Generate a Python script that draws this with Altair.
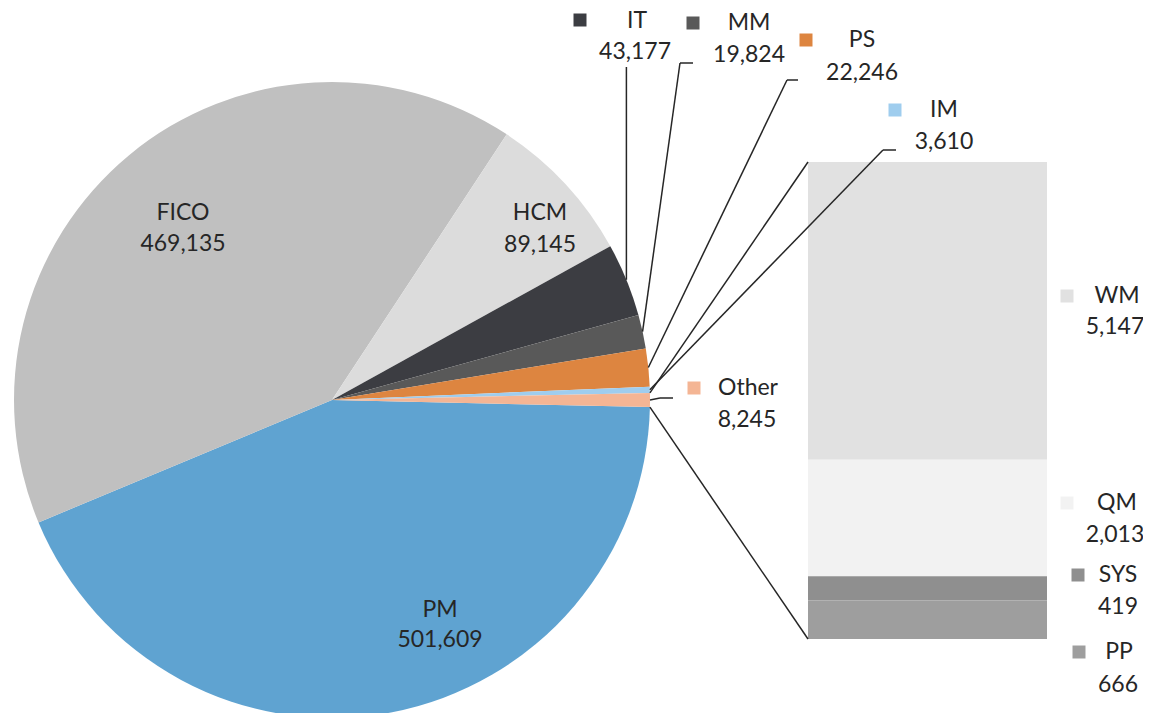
import math
import altair as alt
import pandas as pd

# ---------------- data ----------------
pie_names = ["PM", "FICO", "HCM", "IT", "MM", "PS", "IM", "Other"]
pie_values = [501609, 469135, 89145, 43177, 19824, 22246, 3610, 8245]
pie_colors = ["#5fa3d1", "#c0c0c0", "#dcdcdc", "#3c3d42", "#595959", "#dd8540", "#9fcdee", "#f4b594"]

bar_names = ["WM", "QM", "SYS", "PP"]
bar_values = [5147, 2013, 419, 666]
bar_colors = ["#e1e1e1", "#f2f2f2", "#8f8f8f", "#9e9e9e"]

# ---------------- layout (page pixels) ----------------
OFF = 8
W, H = 1135, 705
CX, CY, R = 332, 400, 318
BX0, BX1, BTOP, BBOT = 808, 1047, 162, 639
FONT = "Lato"
FS = 23
TXT = "#262626"

label_pos = {
    "FICO": (183, 213, 183, 244),
    "HCM": (540, 213, 540, 245),
    "PM": (440, 610, 440, 640),
    "IT": (637, 21, 635, 52),
    "MM": (749, 23, 749, 55),
    "PS": (862, 40, 862, 73),
    "IM": (944, 110, 944, 142),
    "Other": (748, 388, 747, 420),
    "WM": (1117, 296, 1115, 327),
    "QM": (1117, 503, 1115, 535),
    "SYS": (1118, 575, 1118, 607),
    "PP": (1119, 652, 1118, 685),
}
square_pos = {
    "IT": (580, 20), "MM": (693, 23), "PS": (806, 40), "IM": (895, 110),
    "Other": (694, 388), "WM": (1067, 296), "QM": (1067, 503),
    "SYS": (1078, 575), "PP": (1079, 652),
}
# leader anchors: (end x, end y, elbow x or None)
leader_pos = {
    "IT": (None, 67, None),
    "MM": (693, 63, 680),
    "PS": (798, 80, 787),
    "IM": (896, 150, 883),
    "Other": (673, 398, 660),
}

all_names = pie_names + bar_names
all_colors = pie_colors + bar_colors
color_scale = alt.Scale(domain=all_names, range=all_colors)

total = sum(pie_values)
other_frac = pie_values[-1] / total
start = math.pi / 2 + math.pi * other_frac

# slice angles
angles = {}
acc = start
for n, v in zip(pie_names, pie_values):
    a0 = acc
    acc += 2 * math.pi * v / total
    angles[n] = (a0, acc)


def pt(a, r=R):
    return CX + r * math.sin(a), CY - r * math.cos(a)


def fmt(v):
    return f"{v:,}"


# ---------------- pie ----------------
pie_df = pd.DataFrame({"name": pie_names, "value": pie_values, "ord": list(range(len(pie_names)))})
pie = alt.Chart(pie_df).mark_arc(radius=R).encode(
    theta=alt.Theta("value:Q", stack=True, scale=alt.Scale(range=[start, start + 2 * math.pi])),
    order=alt.Order("ord:Q"),
    color=alt.Color("name:N", scale=color_scale, legend=None),
    x=alt.value(CX - OFF),
    y=alt.value(CY - OFF),
)

# ---------------- bar ----------------
bar_df = pd.DataFrame({"name": bar_names, "value": bar_values, "ord": [3, 2, 1, 0]})
bar_scale = alt.Scale(domain=[0, sum(bar_values)], range=[BBOT - OFF, BTOP - OFF])
bar = alt.Chart(bar_df).transform_window(
    cum="sum(value)", sort=[alt.SortField("ord", order="ascending")],
    frame=[None, 0]
).transform_calculate(
    base="datum.cum - datum.value"
).mark_rect().encode(
    x=alt.value(BX0 - OFF),
    x2=alt.value(BX1 - OFF),
    y=alt.Y("base:Q", scale=bar_scale, axis=None),
    y2="cum:Q",
    color=alt.Color("name:N", scale=color_scale, legend=None),
)

# ---------------- leader lines ----------------
segs = []
for n, (ex, ey, elbow) in leader_pos.items():
    a0, a1 = angles[n]
    px, py = pt((a0 + a1) / 2)
    if ex is None:
        segs.append((px, py, px, ey))
    else:
        segs.append((px, py, elbow, ey))
        segs.append((elbow, ey, ex, ey))
oa0, oa1 = angles["Other"]
p0 = pt(oa0)
p1 = pt(oa1)
segs.append((p0[0], p0[1], BX0, BTOP))
segs.append((p1[0], p1[1], BX0, BBOT))
seg_df = pd.DataFrame([(a - OFF, b - OFF, c - OFF, d - OFF) for a, b, c, d in segs],
                      columns=["x", "y", "x2", "y2"])
rules = alt.Chart(seg_df).mark_rule(color=TXT, strokeWidth=1.5).encode(
    x=alt.X("x:Q", scale=None, axis=None), y=alt.Y("y:Q", scale=None, axis=None),
    x2="x2:Q", y2="y2:Q")

# ---------------- labels ----------------
vals = dict(zip(pie_names + bar_names, pie_values + bar_values))
rows = []
for n, (xn, yn, xv, yv) in label_pos.items():
    rows.append({"t": n, "x": xn - OFF, "y": yn - OFF})
    rows.append({"t": fmt(vals[n]), "x": xv - OFF, "y": yv - OFF})
lab_df = pd.DataFrame(rows)
labels = alt.Chart(lab_df).mark_text(font=FONT, fontSize=FS, color=TXT, align="center",
                                     baseline="middle").encode(
    x=alt.X("x:Q", scale=None, axis=None), y=alt.Y("y:Q", scale=None, axis=None), text="t:N")

sq_df = pd.DataFrame([{"name": n, "x": x - OFF, "y": y - OFF} for n, (x, y) in square_pos.items()])
squares = alt.Chart(sq_df).mark_square(size=169, opacity=1).encode(
    x=alt.X("x:Q", scale=None, axis=None), y=alt.Y("y:Q", scale=None, axis=None),
    color=alt.Color("name:N", scale=color_scale, legend=None))

chart = alt.layer(pie, bar, rules, squares, labels).resolve_scale(
    x="independent", y="independent", theta="independent"
).properties(
    width=W, height=H, padding=0, autosize=alt.AutoSizeParams(type="none")
).configure_view(stroke=None)

chart.save("out.html", embed_options={"renderer": "svg", "actions": False})
